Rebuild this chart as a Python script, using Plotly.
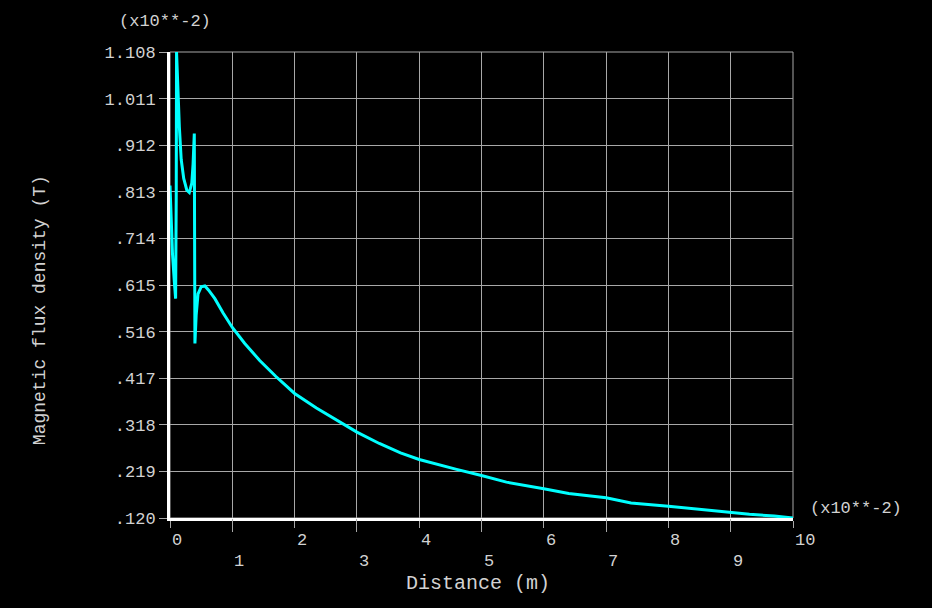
import plotly.graph_objects as go

# Distance in units of 1e-2 m, flux density in units of 1e-2 T
distance = [0.00, 0.02, 0.04, 0.07, 0.09, 0.10, 0.105, 0.15, 0.18, 0.22, 0.27, 0.31,
            0.35, 0.37, 0.39, 0.395, 0.40, 0.42, 0.45, 0.50, 0.56, 0.62, 0.72, 0.85,
            1.00, 1.20, 1.44, 1.70, 2.00, 2.35, 2.60, 3.00, 3.36, 3.70, 4.00, 4.30,
            4.60, 5.00, 5.40, 6.00, 6.40, 7.00, 7.40, 8.00, 8.50, 9.00, 9.30, 9.70, 10.00]
flux = [0.825, 0.75, 0.68, 0.62, 0.585, 0.80, 1.108, 0.95, 0.88, 0.84, 0.815, 0.81,
        0.83, 0.87, 0.935, 0.70, 0.49, 0.55, 0.595, 0.610, 0.612, 0.603, 0.585, 0.555,
        0.524, 0.490, 0.454, 0.420, 0.384, 0.353, 0.333, 0.302, 0.278, 0.258, 0.244, 0.233,
        0.223, 0.210, 0.196, 0.182, 0.172, 0.163, 0.152, 0.145, 0.138, 0.132, 0.128, 0.124, 0.120]

x_even_ticks = [0, 2, 4, 6, 8, 10]
x_odd_ticks = [1, 3, 5, 7, 9]
y_tick_values = [0.120, 0.2188, 0.3176, 0.4164, 0.5152, 0.614, 0.7128, 0.8116, 0.9104, 1.0092, 1.108]
y_tick_labels = [".120", ".219", ".318", ".417", ".516", ".615", ".714", ".813", ".912", "1.011", "1.108"]

FONT = "Liberation Mono"
TXT = "#d2d2d2"
GRID = "#a8a8a8"

fig = go.Figure()
fig.add_trace(go.Scatter(x=distance, y=flux, mode="lines",
                         line=dict(color="#00ffff", width=3), showlegend=False,
                         xaxis="x", yaxis="y"))
# invisible trace on the odd-tick overlay axis
fig.add_trace(go.Scatter(x=[0, 10], y=[0.12, 0.12], mode="lines", line=dict(width=0),
                         showlegend=False, hoverinfo="skip", xaxis="x2", yaxis="y"))

annotations = []
for v in x_even_ticks:
    annotations.append(dict(x=v, xref="x", y=0, yref="paper", text=str(v), showarrow=False,
                            xanchor="left", yanchor="middle", yshift=-22, xshift=0,
                            font=dict(family=FONT, size=17, color=TXT)))
for v in x_odd_ticks:
    annotations.append(dict(x=v, xref="x", y=0, yref="paper", text=str(v), showarrow=False,
                            xanchor="left", yanchor="middle", yshift=-43, xshift=0,
                            font=dict(family=FONT, size=17, color=TXT)))
annotations += [
    dict(text="Distance (m)", xref="paper", yref="paper", x=0.495, y=0, yshift=-65,
         xanchor="center", yanchor="middle", showarrow=False,
         font=dict(family=FONT, size=20, color=TXT)),
    dict(text="Magnetic flux density (T)", xref="paper", yref="paper", x=0, xshift=-130,
         y=0.446, xanchor="center", yanchor="middle", textangle=-90, showarrow=False,
         font=dict(family=FONT, size=18, color=TXT)),
    dict(text="(x10**-2)", xref="paper", yref="paper", x=0, xshift=-5, y=1, yshift=31,
         xanchor="center", yanchor="middle", showarrow=False,
         font=dict(family=FONT, size=17, color=TXT)),
    dict(text="(x10**-2)", xref="paper", yref="paper", x=1, xshift=15, y=0, yshift=10,
         xanchor="left", yanchor="middle", showarrow=False,
         font=dict(family=FONT, size=17, color=TXT)),
]

fig.update_layout(
    width=932, height=608,
    paper_bgcolor="black", plot_bgcolor="black",
    margin=dict(l=170, r=139, t=52, b=90),
    xaxis=dict(range=[0, 10], tickvals=x_even_ticks, showticklabels=False,
               ticks="outside", ticklen=7, tickcolor=GRID, tickwidth=1,
               showgrid=True, gridcolor=GRID, gridwidth=1,
               showline=True, linecolor="white", linewidth=3, zeroline=False),
    xaxis2=dict(range=[0, 10], overlaying="x", matches="x", side="bottom",
                tickvals=x_odd_ticks, showticklabels=False,
                ticks="outside", ticklen=13, tickcolor=GRID, tickwidth=1,
                showgrid=True, gridcolor=GRID, gridwidth=1, showline=False, zeroline=False),
    yaxis=dict(range=[0.120, 1.108], tickvals=y_tick_values, ticktext=y_tick_labels,
               ticks="outside", ticklen=8, tickcolor=GRID, tickwidth=1,
               tickfont=dict(family=FONT, size=17, color=TXT),
               showgrid=True, gridcolor=GRID, gridwidth=1,
               showline=True, linecolor="white", linewidth=3, zeroline=False),
    shapes=[dict(type="rect", xref="paper", yref="paper", x0=0, x1=1, y0=0, y1=1,
                 line=dict(color=GRID, width=1), layer="below")],
    annotations=annotations,
)

fig.write_html("out.html", config={"displayModeBar": False},
               post_script="document.body.style.margin='0';document.body.style.background='black';document.body.style.overflow='hidden';")
